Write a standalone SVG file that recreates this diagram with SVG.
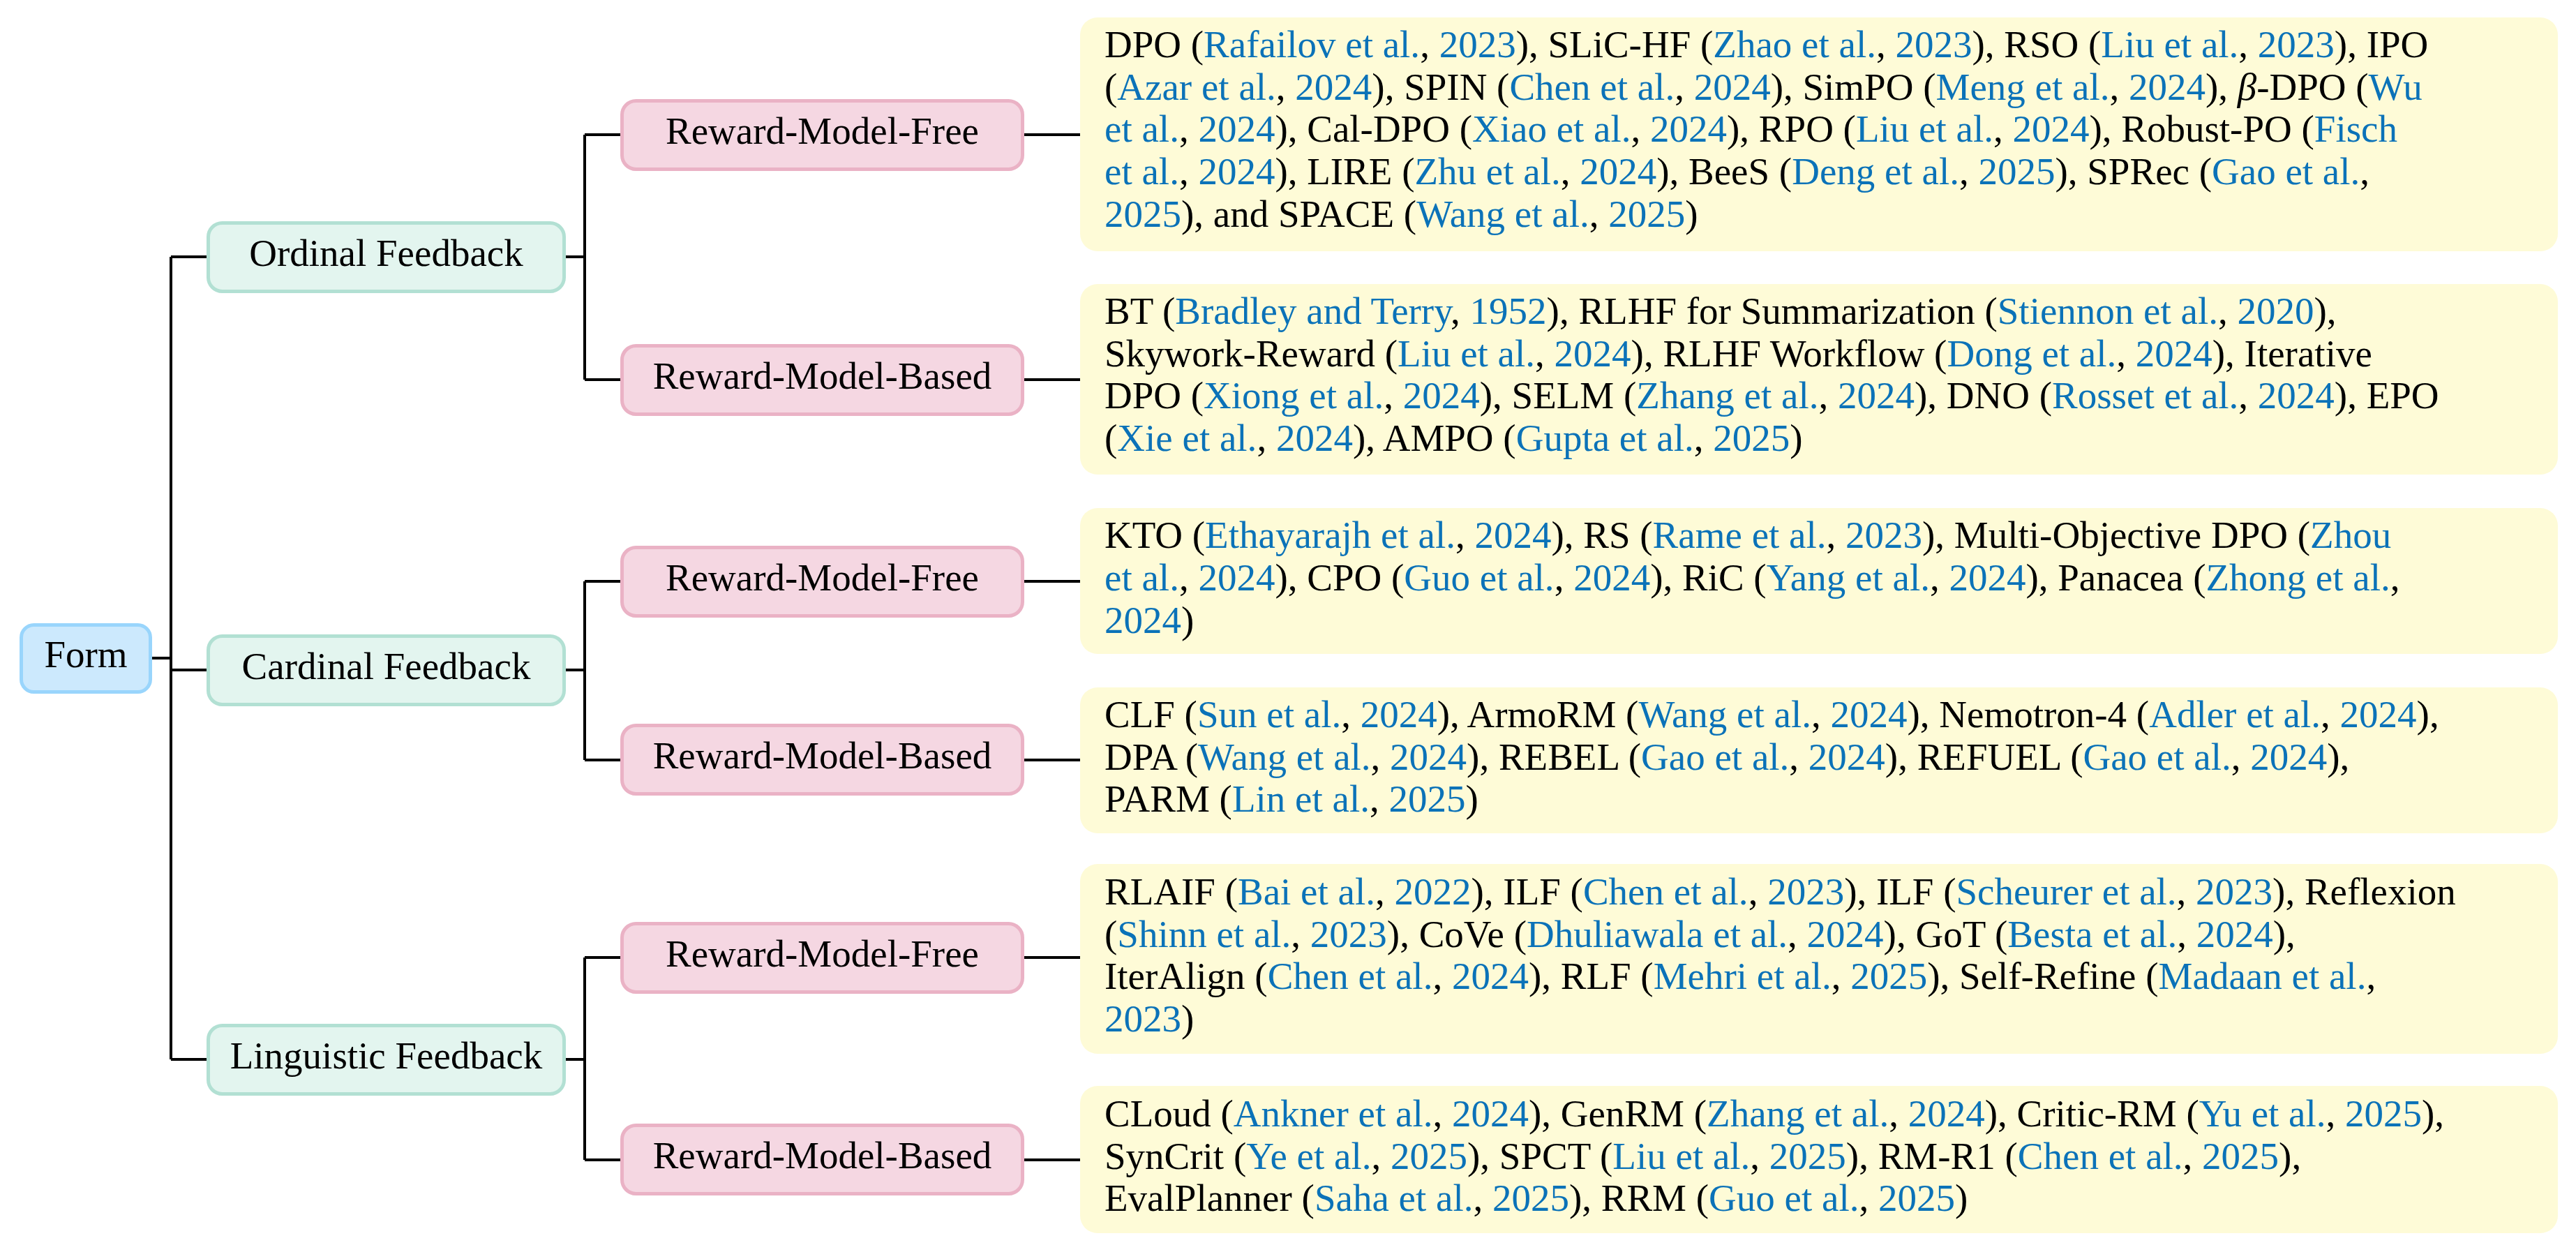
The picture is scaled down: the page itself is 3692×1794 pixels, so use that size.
<svg xmlns="http://www.w3.org/2000/svg" width="3692" height="1794" viewBox="0 0 3692 1794">
<style>
.t{font-family:"Liberation Serif","Times New Roman",serif;font-size:55px;fill:#000}
.c{fill:#0b72b8}
.lbl{text-anchor:middle}
.root{fill:#cce9fd;stroke:#99d5fc;stroke-width:5}
.l1{fill:#e3f5ef;stroke:#b2e0d3;stroke-width:5}
.l2{fill:#f5d7e2;stroke:#eab2c5;stroke-width:5}
.leaf{fill:#fefbd7}
.conn{stroke:#000;stroke-width:4;fill:none}
</style>
<rect width="3692" height="1794" fill="#fff"/>
<g id="connectors">
<path class="conn" d="M218 943H245M245 368V1518M245 368H296M245 960H296M245 1518H296"/>
<path class="conn" d="M811 368H838M838 193V544M838 193H889M838 544H889"/>
<path class="conn" d="M811 960H838M838 833V1089M838 833H889M838 1089H889"/>
<path class="conn" d="M811 1518H838M838 1372V1662M838 1372H889M838 1662H889"/>
<path class="conn" d="M1468 193H1548M1468 544H1548M1468 833H1548M1468 1089H1548M1468 1372H1548M1468 1662H1548"/>
</g>
<g id="form"><rect class="root" x="30.5" y="895.5" width="185" height="96" rx="18"/><text class="t lbl" x="123" y="956">Form</text></g>
<g id="ordinal"><rect class="l1" x="298.5" y="319.5" width="510" height="98" rx="20"/><text class="t lbl" x="553.5" y="381">Ordinal Feedback</text></g>
<g id="cardinal"><rect class="l1" x="298.5" y="911.5" width="510" height="98" rx="20"/><text class="t lbl" x="553.5" y="973">Cardinal Feedback</text></g>
<g id="linguistic"><rect class="l1" x="298.5" y="1469.5" width="510" height="98" rx="20"/><text class="t lbl" x="553.5" y="1531">Linguistic Feedback</text></g>
<g id="ord-rmf"><rect class="l2" x="891.5" y="144.5" width="574" height="98" rx="20"/><text class="t lbl" x="1178.5" y="206">Reward-Model-Free</text></g>
<g id="ord-rmb"><rect class="l2" x="891.5" y="495.5" width="574" height="98" rx="20"/><text class="t lbl" x="1178.5" y="557">Reward-Model-Based</text></g>
<g id="car-rmf"><rect class="l2" x="891.5" y="784.5" width="574" height="98" rx="20"/><text class="t lbl" x="1178.5" y="846">Reward-Model-Free</text></g>
<g id="car-rmb"><rect class="l2" x="891.5" y="1039.5" width="574" height="98" rx="20"/><text class="t lbl" x="1178.5" y="1101">Reward-Model-Based</text></g>
<g id="lin-rmf"><rect class="l2" x="891.5" y="1323.5" width="574" height="98" rx="20"/><text class="t lbl" x="1178.5" y="1385">Reward-Model-Free</text></g>
<g id="lin-rmb"><rect class="l2" x="891.5" y="1612.5" width="574" height="98" rx="20"/><text class="t lbl" x="1178.5" y="1674">Reward-Model-Based</text></g>
<g id="leaf-ord-rmf"><rect class="leaf" x="1548" y="25" width="2118" height="335" rx="25"/>
<text class="t" x="1583" y="82">DPO (<tspan class="c">Rafailov et al.</tspan>, <tspan class="c">2023</tspan>), SLiC-HF (<tspan class="c">Zhao et al.</tspan>, <tspan class="c">2023</tspan>), RSO (<tspan class="c">Liu et al.</tspan>, <tspan class="c">2023</tspan>), IPO</text>
<text class="t" x="1583" y="143">(<tspan class="c">Azar et al.</tspan>, <tspan class="c">2024</tspan>), SPIN (<tspan class="c">Chen et al.</tspan>, <tspan class="c">2024</tspan>), SimPO (<tspan class="c">Meng et al.</tspan>, <tspan class="c">2024</tspan>), <tspan font-style="italic">β</tspan>-DPO (<tspan class="c">Wu</tspan></text>
<text class="t" x="1583" y="203"><tspan class="c">et al.</tspan>, <tspan class="c">2024</tspan>), Cal-DPO (<tspan class="c">Xiao et al.</tspan>, <tspan class="c">2024</tspan>), RPO (<tspan class="c">Liu et al.</tspan>, <tspan class="c">2024</tspan>), Robust-PO (<tspan class="c">Fisch</tspan></text>
<text class="t" x="1583" y="264"><tspan class="c">et al.</tspan>, <tspan class="c">2024</tspan>), LIRE (<tspan class="c">Zhu et al.</tspan>, <tspan class="c">2024</tspan>), BeeS (<tspan class="c">Deng et al.</tspan>, <tspan class="c">2025</tspan>), SPRec (<tspan class="c">Gao et al.</tspan>,</text>
<text class="t" x="1583" y="325"><tspan class="c">2025</tspan>), and SPACE (<tspan class="c">Wang et al.</tspan>, <tspan class="c">2025</tspan>)</text>
</g>
<g id="leaf-ord-rmb"><rect class="leaf" x="1548" y="407" width="2118" height="273" rx="25"/>
<text class="t" x="1583" y="464">BT (<tspan class="c">Bradley and Terry</tspan>, <tspan class="c">1952</tspan>), RLHF for Summarization (<tspan class="c">Stiennon et al.</tspan>, <tspan class="c">2020</tspan>),</text>
<text class="t" x="1583" y="525">Skywork-Reward (<tspan class="c">Liu et al.</tspan>, <tspan class="c">2024</tspan>), RLHF Workflow (<tspan class="c">Dong et al.</tspan>, <tspan class="c">2024</tspan>), Iterative</text>
<text class="t" x="1583" y="585">DPO (<tspan class="c">Xiong et al.</tspan>, <tspan class="c">2024</tspan>), SELM (<tspan class="c">Zhang et al.</tspan>, <tspan class="c">2024</tspan>), DNO (<tspan class="c">Rosset et al.</tspan>, <tspan class="c">2024</tspan>), EPO</text>
<text class="t" x="1583" y="646">(<tspan class="c">Xie et al.</tspan>, <tspan class="c">2024</tspan>), AMPO (<tspan class="c">Gupta et al.</tspan>, <tspan class="c">2025</tspan>)</text>
</g>
<g id="leaf-car-rmf"><rect class="leaf" x="1548" y="728" width="2118" height="209" rx="25"/>
<text class="t" x="1583" y="785">KTO (<tspan class="c">Ethayarajh et al.</tspan>, <tspan class="c">2024</tspan>), RS (<tspan class="c">Rame et al.</tspan>, <tspan class="c">2023</tspan>), Multi-Objective DPO (<tspan class="c">Zhou</tspan></text>
<text class="t" x="1583" y="846"><tspan class="c">et al.</tspan>, <tspan class="c">2024</tspan>), CPO (<tspan class="c">Guo et al.</tspan>, <tspan class="c">2024</tspan>), RiC (<tspan class="c">Yang et al.</tspan>, <tspan class="c">2024</tspan>), Panacea (<tspan class="c">Zhong et al.</tspan>,</text>
<text class="t" x="1583" y="907"><tspan class="c">2024</tspan>)</text>
</g>
<g id="leaf-car-rmb"><rect class="leaf" x="1548" y="985" width="2118" height="209" rx="25"/>
<text class="t" x="1583" y="1042">CLF (<tspan class="c">Sun et al.</tspan>, <tspan class="c">2024</tspan>), ArmoRM (<tspan class="c">Wang et al.</tspan>, <tspan class="c">2024</tspan>), Nemotron-4 (<tspan class="c">Adler et al.</tspan>, <tspan class="c">2024</tspan>),</text>
<text class="t" x="1583" y="1103">DPA (<tspan class="c">Wang et al.</tspan>, <tspan class="c">2024</tspan>), REBEL (<tspan class="c">Gao et al.</tspan>, <tspan class="c">2024</tspan>), REFUEL (<tspan class="c">Gao et al.</tspan>, <tspan class="c">2024</tspan>),</text>
<text class="t" x="1583" y="1163">PARM (<tspan class="c">Lin et al.</tspan>, <tspan class="c">2025</tspan>)</text>
</g>
<g id="leaf-lin-rmf"><rect class="leaf" x="1548" y="1238" width="2118" height="272" rx="25"/>
<text class="t" x="1583" y="1296">RLAIF (<tspan class="c">Bai et al.</tspan>, <tspan class="c">2022</tspan>), ILF (<tspan class="c">Chen et al.</tspan>, <tspan class="c">2023</tspan>), ILF (<tspan class="c">Scheurer et al.</tspan>, <tspan class="c">2023</tspan>), Reflexion</text>
<text class="t" x="1583" y="1357">(<tspan class="c">Shinn et al.</tspan>, <tspan class="c">2023</tspan>), CoVe (<tspan class="c">Dhuliawala et al.</tspan>, <tspan class="c">2024</tspan>), GoT (<tspan class="c">Besta et al.</tspan>, <tspan class="c">2024</tspan>),</text>
<text class="t" x="1583" y="1417">IterAlign (<tspan class="c">Chen et al.</tspan>, <tspan class="c">2024</tspan>), RLF (<tspan class="c">Mehri et al.</tspan>, <tspan class="c">2025</tspan>), Self-Refine (<tspan class="c">Madaan et al.</tspan>,</text>
<text class="t" x="1583" y="1478"><tspan class="c">2023</tspan>)</text>
</g>
<g id="leaf-lin-rmb"><rect class="leaf" x="1548" y="1556" width="2118" height="211" rx="25"/>
<text class="t" x="1583" y="1614">CLoud (<tspan class="c">Ankner et al.</tspan>, <tspan class="c">2024</tspan>), GenRM (<tspan class="c">Zhang et al.</tspan>, <tspan class="c">2024</tspan>), Critic-RM (<tspan class="c">Yu et al.</tspan>, <tspan class="c">2025</tspan>),</text>
<text class="t" x="1583" y="1675">SynCrit (<tspan class="c">Ye et al.</tspan>, <tspan class="c">2025</tspan>), SPCT (<tspan class="c">Liu et al.</tspan>, <tspan class="c">2025</tspan>), RM-R1 (<tspan class="c">Chen et al.</tspan>, <tspan class="c">2025</tspan>),</text>
<text class="t" x="1583" y="1735">EvalPlanner (<tspan class="c">Saha et al.</tspan>, <tspan class="c">2025</tspan>), RRM (<tspan class="c">Guo et al.</tspan>, <tspan class="c">2025</tspan>)</text>
</g>
</svg>
